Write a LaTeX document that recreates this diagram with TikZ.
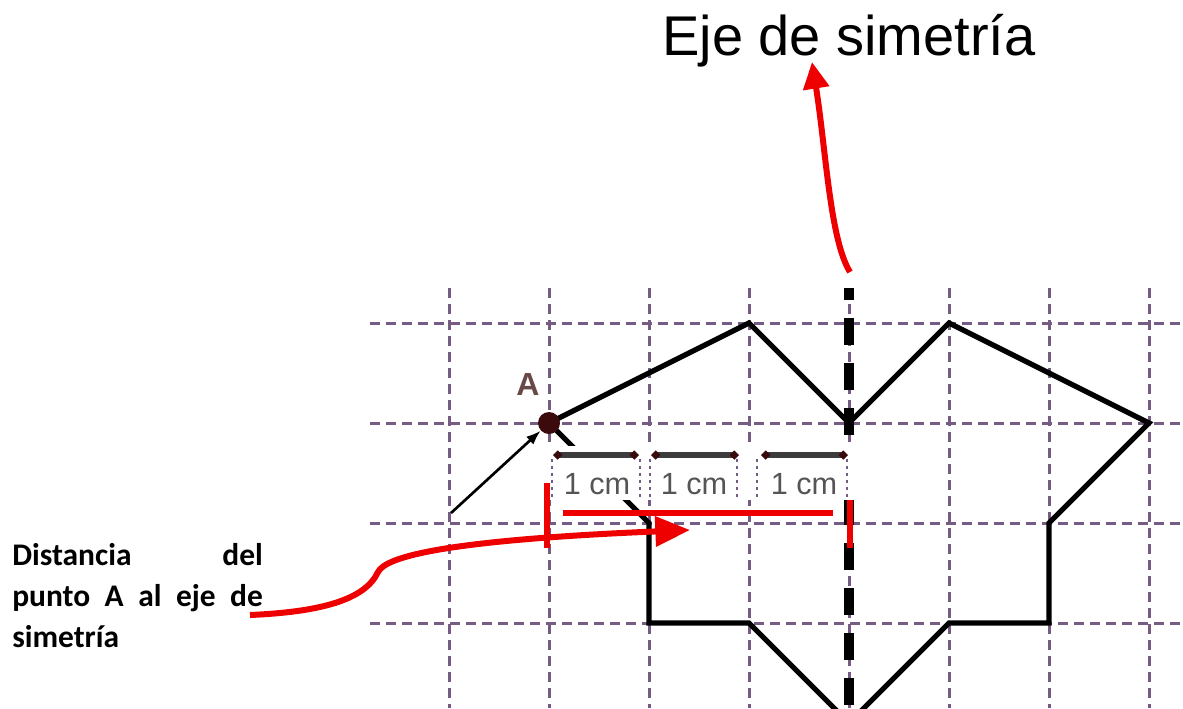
\documentclass[tikz,border=0pt]{standalone}
\usepackage{fontspec}
\setmainfont{Liberation Sans}
\newfontfamily\notefont{Carlito}
\usetikzlibrary{arrows.meta}

\definecolor{gridpurple}{RGB}{118,92,130}
\definecolor{redmark}{RGB}{238,0,0}
\definecolor{dotred}{RGB}{58,10,12}
\definecolor{labbrown}{RGB}{105,72,72}
\definecolor{bargray}{RGB}{60,60,60}
\definecolor{cmgray}{RGB}{85,85,85}

\begin{document}
\begin{tikzpicture}[x=0.75pt,y=-0.75pt,
  gridline/.style={gridpurple, line width=2.25pt, dash pattern=on 7.5pt off 4.5pt},
  figline/.style={black, line width=3.9pt},
  axisline/.style={black, line width=7.5pt, dash pattern=on 20.25pt off 13.5pt, dash phase=11.25pt},
  cmbar/.style={bargray, line width=4.5pt, {Diamond[dotred,length=7pt,width=7pt]}-{Diamond[dotred,length=7pt,width=7pt]}},
  cmlabel/.style={text=cmgray, font=\fontsize{23}{26}\selectfont, inner sep=0pt, anchor=base},
  sideline/.style={gridpurple, line width=1.8pt, dash pattern=on 2.6pt off 2.6pt},
  redline/.style={redmark, line width=4.5pt},
  redarrow/.style={redline, -{Triangle[length=26pt,width=22pt]}},
  toparrow/.style={redline, -{Triangle[length=20pt,width=19pt]}},
  dotA/.style={circle, fill=dotred, minimum size=16.5pt, inner sep=0pt},
  note/.style={font=\notefont\bfseries\fontsize{23.6}{30.75}\selectfont, align=left, inner sep=0pt, text width=188pt}
]
\useasboundingbox (0,0) rectangle (1183,708);
\clip (0,0) rectangle (1183,708);

% grid
\foreach \y in {323,423,523,623}
  \draw[gridline] (370,\y) -- (1183,\y);
\foreach \x in {449,549,...,1149}
  \draw[gridline] (\x,288) -- (\x,708);

% figure and its axis
\draw[figline] (549,423) -- (749,323) -- (849,423) -- (949,323) -- (1149,423)
  -- (1049,523) -- (1049,623) -- (949,623) -- (849,723) -- (749,623)
  -- (649,623) -- (649,523) -- cycle;
\draw[axisline] (849,288) -- (849,708);

% 1 cm marks
\fill[white] (548,446) rectangle (857,500);
\draw[cmbar] (553,455) -- (639,455);
\draw[cmbar] (651,455) -- (739,455);
\draw[cmbar] (761,455) -- (848,455);
\foreach \x in {552,640,650,737,757,847}
  \draw[sideline] (\x,459) -- (\x,498);
\node[cmlabel] (cm1) at (597,494) {1 cm};
\node[cmlabel] (cm2) at (694,494) {1 cm};
\node[cmlabel] (cm3) at (804,494) {1 cm};

% distance in red
\draw[redline] (547,483) -- (547,548);
\draw[redline] (850,500) -- (850,548);
\draw[redline] (563,513) -- (833,513);

% point A
\node[dotA] (ptA) at (549,423) {};
\node[text=labbrown, font=\bfseries\fontsize{24}{26}\selectfont] (labA) at (528,384) {A};
\coordinate (arrtail) at (451,513);
\draw[line width=2pt, -{Latex[length=11pt,width=8pt]}] (arrtail) -- (ptA);

% texts
\node[font=\fontsize{42}{50}\selectfont, anchor=base] (title) at (849,55) {Eje de simetría};
\node[note, anchor=base west] (dist) at (12,565)
  {\makebox[188pt][l]{Distancia\hfill del}\\\makebox[188pt][l]{punto\hfill A\hfill al\hfill eje\hfill de}\\simetría};

% red arrows
\coordinate (distend) at (250,615);
\coordinate (disttip) at (690,530);
\draw[redarrow] (distend) .. controls (320,612) and (365,600) .. (378,572)
  .. controls (386,556) and (450,540) .. (disttip);
\coordinate (axtop) at (850,272);
\coordinate (titletip) at (812,62);
\draw[toparrow] (axtop) .. controls (830,240) and (826,150) .. (titletip);
\end{tikzpicture}
\end{document}
